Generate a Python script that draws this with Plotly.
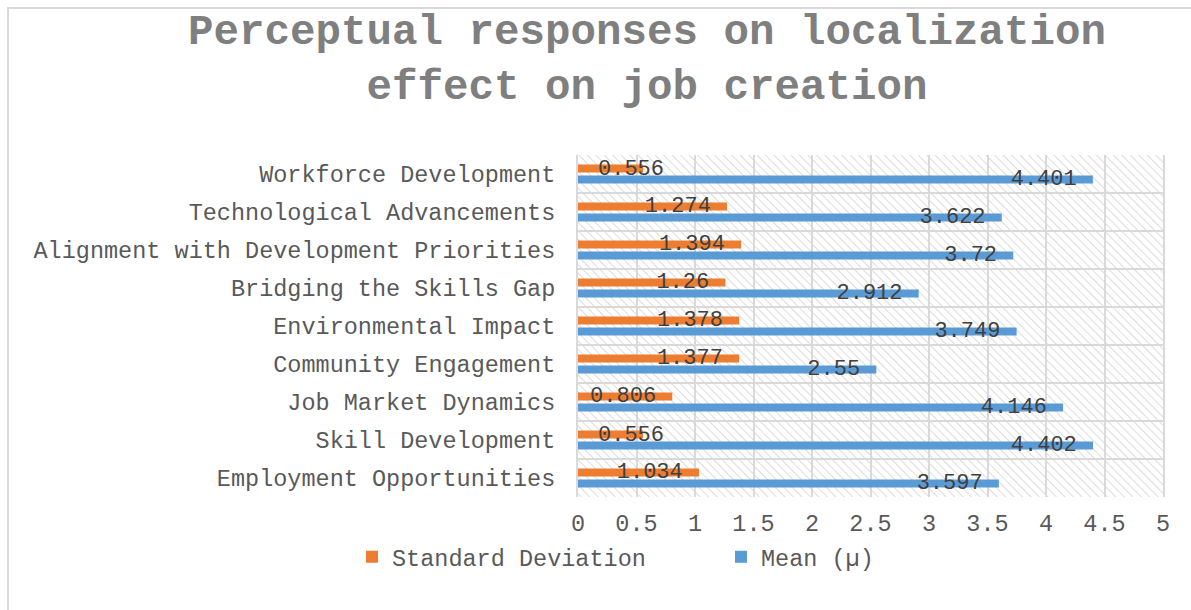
import base64
import plotly.graph_objects as go

categories = [
    "Employment Opportunities",
    "Skill Development",
    "Job Market Dynamics",
    "Community Engagement",
    "Environmental Impact",
    "Bridging the Skills Gap",
    "Alignment with Development Priorities",
    "Technological Advancements",
    "Workforce Development",
]
mean_vals = [3.597, 4.402, 4.146, 2.55, 3.749, 2.912, 3.72, 3.622, 4.401]
sd_vals = [1.034, 0.556, 0.806, 1.377, 1.378, 1.26, 1.394, 1.274, 0.556]
x_ticks = [0, 0.5, 1, 1.5, 2, 2.5, 3, 3.5, 4, 4.5, 5]
x_ticklabels = ["0", "0.5", "1", "1.5", "2", "2.5", "3", "3.5", "4", "4.5", "5"]

FONT = "Liberation Mono, Courier New, monospace"
TS = 23.5
LABEL_FONT = dict(family=FONT, size=22, color="#404040")
W, H = 1191, 610
L, R, T, B = 578, 28, 155, 113
PW, PH = W - L - R, H - T - B
SHORT = 0.7  # bars too short to hold their label

# hatch background for plot area
svg = (
    f'<svg xmlns="http://www.w3.org/2000/svg" width="{PW}" height="{PH}">'
    '<defs><pattern id="p" width="6" height="6" patternUnits="userSpaceOnUse" '
    'patternTransform="rotate(-45)"><line x1="0" y1="0" x2="0" y2="6" '
    'stroke="#d3d3d3" stroke-width="1.6"/></pattern></defs>'
    f'<rect width="{PW}" height="{PH}" fill="white"/>'
    f'<rect width="{PW}" height="{PH}" fill="url(#p)"/></svg>'
)
svg_uri = "data:image/svg+xml;base64," + base64.b64encode(svg.encode()).decode()

fig = go.Figure()
fig.add_trace(go.Bar(
    y=categories, x=mean_vals, orientation="h", name="Mean (µ)",
    marker_color="#5B9BD5", marker_line_width=0,
    text=[f"{v}\u00a0" for v in mean_vals], texttemplate="%{text}",
    textposition="inside", insidetextanchor="end",
    textangle=0, constraintext="none", cliponaxis=False,
    insidetextfont=LABEL_FONT,
    legendrank=2,
))
fig.add_trace(go.Bar(
    y=categories, x=sd_vals, orientation="h", name="Standard Deviation",
    marker_color="#ED7D31", marker_line_width=0,
    text=[f"{v}\u00a0" if v >= SHORT else "" for v in sd_vals], texttemplate="%{text}",
    textposition="inside", insidetextanchor="end",
    textangle=0, constraintext="none", cliponaxis=False,
    insidetextfont=LABEL_FONT,
    legendrank=1,
))

def px_to_paper_x(px):
    return (px - L) / PW

def px_to_paper_y(py):
    return 1 - (py - T) / PH

# labels for short bars, overhanging the bar end as in the original
annotations = [
    dict(x=v, y=c, text=str(v), showarrow=False, xanchor="right", yanchor="middle",
         xshift=23, yshift=5, font=LABEL_FONT)
    for c, v in zip(categories, sd_vals) if v < SHORT
]

fig.update_layout(
    width=W, height=H,
    margin=dict(l=L, r=R, t=T, b=B),
    paper_bgcolor="white",
    plot_bgcolor="rgba(0,0,0,0)",
    barmode="group",
    bargap=0.42,
    bargroupgap=0.27,
    font=dict(family=FONT, size=TS, color="#595959"),
    title=dict(
        text="Perceptual responses on localization<br>effect on job creation",
        font=dict(family=FONT, size=42.5, color="#7F7F7F", weight="bold"),
        x=647 / W, xref="container", xanchor="center",
        y=1 - 44 / H, yref="container", yanchor="middle",
    ),
    xaxis=dict(
        range=[0, 5], tickvals=x_ticks, ticktext=x_ticklabels,
        showgrid=True, gridcolor="#D9D9D9", gridwidth=2,
        zeroline=False, showline=False, ticks="",
        ticklabelstandoff=9,
        tickfont=dict(family=FONT, size=TS, color="#595959"),
    ),
    yaxis=dict(
        type="category", categoryorder="array", categoryarray=categories,
        range=[-0.5, len(categories) - 0.5], autorange=False,
        tickson="boundaries", showgrid=True, gridcolor="#D9D9D9", gridwidth=2,
        showline=True, mirror=True, linecolor="#D9D9D9", linewidth=2,
        ticks="", ticklabelstandoff=16,
        tickfont=dict(family=FONT, size=TS, color="#595959"),
    ),
    legend=dict(
        orientation="h",
        x=px_to_paper_x(352), xanchor="left",
        y=px_to_paper_y(557), yanchor="middle",
        entrywidth=324, entrywidthmode="pixels",
        font=dict(family=FONT, size=TS, color="#595959"),
        bgcolor="rgba(0,0,0,0)",
    ),
    showlegend=True,
    annotations=annotations,
    images=[dict(
        source=svg_uri, xref="paper", yref="paper", x=0, y=1,
        sizex=1, sizey=1, sizing="stretch", layer="below",
        xanchor="left", yanchor="top",
    )],
    shapes=[dict(
        type="rect", xref="paper", yref="paper",
        x0=px_to_paper_x(8), x1=px_to_paper_x(1200),
        y0=px_to_paper_y(615), y1=px_to_paper_y(8),
        line=dict(color="#D9D9D9", width=2), fillcolor="rgba(0,0,0,0)",
        layer="below",
    )],
)

fig.write_html("out.html")
